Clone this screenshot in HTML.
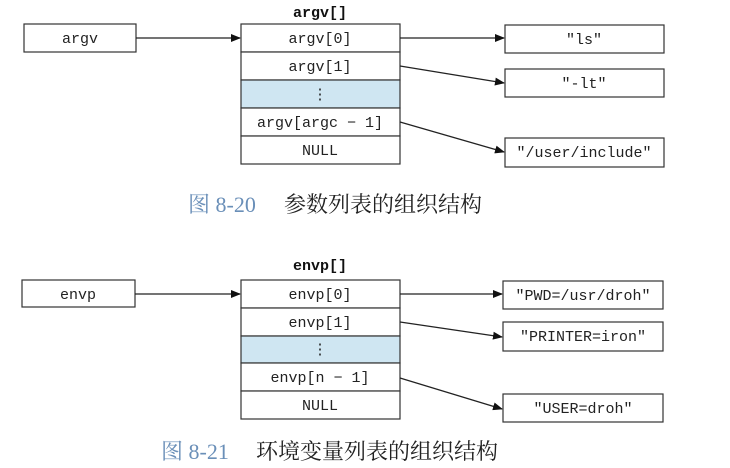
<!DOCTYPE html>
<html><head><meta charset="utf-8"><style>
html,body{margin:0;padding:0;background:#fff;}
svg{display:block;}
.t{font-family:"Liberation Mono",monospace;font-size:15px;fill:#222;}
.b{font-family:"Liberation Mono",monospace;font-size:15px;font-weight:bold;fill:#111;}
.c{font-family:"Liberation Serif","Noto Serif CJK SC",serif;font-size:22px;fill:#6a8fb8;}
.z{font-family:"Liberation Serif","Noto Serif CJK SC",serif;font-size:22px;fill:#222;}
rect{fill:#fff;stroke:#333;stroke-width:1.2;}
line{stroke:#222;stroke-width:1.3;}
</style></head><body>
<svg width="730" height="468" viewBox="0 0 730 468" xmlns="http://www.w3.org/2000/svg">
<defs><marker id="a" markerWidth="10" markerHeight="8" refX="9" refY="4" orient="auto" markerUnits="userSpaceOnUse"><path d="M0,0 L10,4 L0,8 z" fill="#111"/></marker></defs>

<text class="b" x="320" y="17" text-anchor="middle">argv[]</text>
<rect x="24" y="24" width="112" height="28"/>
<text class="t" x="80" y="43" text-anchor="middle">argv</text>
<rect x="241" y="24" width="159" height="28"/>
<rect x="241" y="52" width="159" height="28"/>
<rect x="241" y="80" width="159" height="28" style="fill:#cfe6f2"/>
<rect x="241" y="108" width="159" height="28"/>
<rect x="241" y="136" width="159" height="28"/>
<text class="t" x="320" y="43" text-anchor="middle">argv[0]</text>
<text class="t" x="320" y="71" text-anchor="middle">argv[1]</text>
<text class="t" x="320" y="99" text-anchor="middle">⋮</text>
<text class="t" x="320" y="127" text-anchor="middle">argv[argc − 1]</text>
<text class="t" x="320" y="155" text-anchor="middle">NULL</text>
<rect x="505" y="25" width="159" height="28"/>
<rect x="505" y="69" width="159" height="28"/>
<rect x="505" y="138" width="159" height="29"/>
<text class="t" x="584" y="44" text-anchor="middle">"ls"</text>
<text class="t" x="584" y="88" text-anchor="middle">"-lt"</text>
<text class="t" x="584" y="157" text-anchor="middle">"/user/include"</text>
<line x1="136" y1="38" x2="240" y2="38" marker-end="url(#a)"/>
<line x1="400" y1="38" x2="504" y2="38" marker-end="url(#a)"/>
<line x1="400" y1="66" x2="504" y2="83" marker-end="url(#a)"/>
<line x1="400" y1="122" x2="504" y2="152" marker-end="url(#a)"/>
<text class="c" x="188" y="212">图 8-20</text>
<text class="z" x="284" y="212">参数列表的组织结构</text>

<text class="b" x="320" y="270" text-anchor="middle">envp[]</text>
<rect x="22" y="280" width="113" height="27"/>
<text class="t" x="78" y="299" text-anchor="middle">envp</text>
<rect x="241" y="280" width="159" height="28"/>
<rect x="241" y="308" width="159" height="28"/>
<rect x="241" y="336" width="159" height="27" style="fill:#cfe6f2"/>
<rect x="241" y="363" width="159" height="28"/>
<rect x="241" y="391" width="159" height="28"/>
<text class="t" x="320" y="299" text-anchor="middle">envp[0]</text>
<text class="t" x="320" y="327" text-anchor="middle">envp[1]</text>
<text class="t" x="320" y="354" text-anchor="middle">⋮</text>
<text class="t" x="320" y="382" text-anchor="middle">envp[n − 1]</text>
<text class="t" x="320" y="410" text-anchor="middle">NULL</text>
<rect x="503" y="281" width="160" height="28"/>
<rect x="503" y="322" width="160" height="29"/>
<rect x="503" y="394" width="160" height="28"/>
<text class="t" x="583" y="300" text-anchor="middle">"PWD=/usr/droh"</text>
<text class="t" x="583" y="341" text-anchor="middle">"PRINTER=iron"</text>
<text class="t" x="583" y="413" text-anchor="middle">"USER=droh"</text>
<line x1="135" y1="294" x2="240" y2="294" marker-end="url(#a)"/>
<line x1="400" y1="294" x2="502" y2="294" marker-end="url(#a)"/>
<line x1="400" y1="322" x2="502" y2="337" marker-end="url(#a)"/>
<line x1="400" y1="378" x2="502" y2="409" marker-end="url(#a)"/>
<text class="c" x="161" y="459">图 8-21</text>
<text class="z" x="256" y="459">环境变量列表的组织结构</text>
</svg>
</body></html>
